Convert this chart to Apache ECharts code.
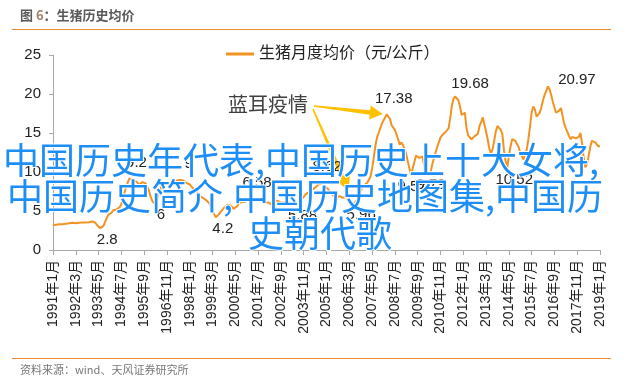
<!DOCTYPE html>
<html><head><meta charset="utf-8">
<script src="https://cdn.jsdelivr.net/npm/echarts@6/dist/echarts.min.js"></script>
<style>html,body{margin:0;padding:0;background:#fff}#c{width:640px;height:386px}</style>
</head><body><div id="c"></div>
<script>
// ---- data: monthly average live hog price (元/公斤) ----
const p1991 = [3.20, 3.22, 3.25, 3.28, 3.30, 3.33, 3.31, 3.35, 3.38, 3.40, 3.43, 3.46];
const p1992 = [3.48, 3.45, 3.42, 3.46, 3.50, 3.48, 3.52, 3.55, 3.53, 3.50, 3.56, 3.60];
const p1993 = [3.65, 3.68, 3.50, 3.20, 2.95, 2.80, 2.85, 3.10, 3.60, 4.10, 4.50, 4.40];
const p1994 = [4.80, 5.10, 4.90, 5.20, 5.40, 5.50, 5.90, 6.60, 7.40, 8.10, 8.70, 9.20];
const p1995 = [9.00, 8.90, 9.05, 8.80, 8.60, 8.40, 8.50, 8.70, 8.60, 8.50, 8.30, 7.60];
const p1996 = [6.80, 6.30, 6.00, 6.20, 6.60, 7.20, 7.80, 8.30, 8.60, 8.50, 8.70, 8.80];
const p1997 = [8.70, 8.80, 8.90, 8.85, 8.90, 8.95, 8.98, 9.00, 8.90, 8.70, 8.60, 8.50];
const p1998 = [8.40, 8.20, 7.90, 7.70, 7.60, 7.20, 6.90, 6.80, 6.70, 6.60, 6.40, 6.30];
const p1999 = [6.00, 5.50, 5.00, 4.60, 4.20, 4.40, 4.60, 4.90, 5.10, 5.40, 5.60, 5.80];
const p2000 = [5.90, 5.70, 5.50, 5.30, 5.40, 5.60, 5.90, 6.10, 6.20, 6.10, 6.20, 6.30];
const p2001 = [6.40, 6.58, 6.40, 6.20, 6.30, 6.40, 6.50, 6.40, 6.30, 6.20, 6.10, 6.00];
const p2002 = [6.10, 6.00, 5.90, 6.00, 6.20, 6.40, 6.30, 6.20, 6.10, 6.00, 6.10, 6.20];
const p2003 = [6.20, 6.10, 6.00, 5.95, 5.92, 5.88, 5.95, 6.10, 6.30, 6.50, 6.80, 7.10];
const p2004 = [7.30, 7.40, 7.60, 7.70, 7.90, 8.00, 8.20, 8.40, 8.62, 8.50, 8.30, 8.20];
const p2005 = [8.00, 7.80, 7.50, 7.30, 7.00, 6.80, 6.70, 6.80, 6.90, 6.80, 6.70, 6.80];
const p2006 = [6.80, 6.50, 6.30, 6.10, 6.00, 5.96, 6.10, 6.50, 7.00, 7.60, 8.00, 8.30];
const p2007 = [8.50, 8.60, 8.80, 9.40, 10.40, 11.80, 13.30, 14.40, 15.00, 15.60, 16.20, 16.60];
const p2008 = [16.80, 17.38, 17.30, 16.80, 16.00, 15.80, 15.40, 14.80, 14.20, 13.50, 13.80, 13.40];
const p2009 = [13.00, 12.20, 11.30, 10.40, 9.57, 10.50, 11.30, 12.10, 12.30, 11.80, 11.60, 12.00];
const p2010 = [10.80, 10.20, 9.90, 9.79, 10.00, 11.00, 11.80, 12.50, 13.20, 13.80, 14.40, 14.70];
const p2011 = [14.80, 15.10, 15.20, 15.60, 16.90, 18.50, 19.40, 19.68, 19.60, 19.20, 18.40, 17.30];
const p2012 = [17.40, 17.60, 15.60, 14.70, 14.50, 14.20, 14.40, 14.60, 14.80, 14.90, 15.90, 16.40];
const p2013 = [17.00, 17.20, 15.20, 14.20, 13.00, 12.40, 12.90, 14.00, 15.20, 15.90, 15.80, 15.40];
const p2014 = [14.90, 12.80, 11.40, 10.52, 12.00, 13.20, 14.20, 14.40, 14.00, 13.60, 13.20, 12.40];
const p2015 = [12.00, 11.60, 11.80, 12.90, 14.20, 15.80, 17.60, 18.40, 18.00, 17.10, 17.00, 17.60];
const p2016 = [18.30, 19.20, 19.90, 20.40, 20.97, 20.60, 19.90, 19.00, 18.30, 17.60, 17.40, 17.90];
const p2017 = [18.20, 17.20, 16.20, 15.60, 15.10, 14.60, 14.20, 14.50, 14.60, 14.30, 14.10, 14.50];
const p2018 = [15.00, 13.60, 11.80, 10.60, 11.00, 12.00, 13.20, 14.00, 14.20, 13.80, 13.60, 13.30];
const p2019 = [13.30];

const yearlyPrices = [p1991,p1992,p1993,p1994,p1995,p1996,p1997,p1998,p1999,p2000,p2001,p2002,p2003,p2004,
  p2005,p2006,p2007,p2008,p2009,p2010,p2011,p2012,p2013,p2014,p2015,p2016,p2017,p2018,p2019];
const firstYear = 1991;

// categories: one per month
const categories = [];
yearlyPrices.forEach((arr, i) => arr.forEach((v, j) => categories.push((firstYear + i) + '年' + (j + 1) + '月')));
const prices = [].concat(...yearlyPrices);

// labelled extremes
const peakMonths = ['1994年12月', '1997年8月', '2001年2月', '2004年9月', '2008年2月', '2011年8月', '2016年5月'];
const troughMonths = ['1993年6月', '1996年3月', '1999年5月', '2003年6月', '2006年6月', '2009年5月', '2010年4月', '2014年4月'];

const seriesName = '生猪月度均价（元/公斤）';
const sourceText = '资料来源：wind、天风证券研究所';
const noteText = '蓝耳疫情';
const noteTargets = ['2008年2月', '2006年6月'];
const overlayTitle = '中国历史年代表,中国历史上十大女将,中国历史简介,中国历史地图集,中国历史朝代歌';

// ---- styling ----
const ORANGE = '#F39221';
const labelShift = {'2011年8月': [15, 3], '2016年5月': [29, 9], '2009年5月': [1, 0], '2010年4月': [2, 0]};
const FONT = '"Liberation Sans", "Noto Sans CJK SC", sans-serif';

function markItem(cat, pos) {
  const idx = categories.indexOf(cat);
  return {
    coord: [cat, prices[idx]], value: prices[idx],
    label: {position: pos, distance: pos === 'top' ? 8 : 4,
      offset: labelShift[cat] || [7, 0]}
  };
}

const chart = echarts.init(document.getElementById('c'));
chart.setOption({
  animation: false,
  backgroundColor: '#fff',
  grid: {left: 53, right: 40, top: 55, bottom: 136},
  legend: {
    left: 221, top: 41, icon: 'rect', itemWidth: 28, itemHeight: 3, itemGap: 6,
    data: [seriesName],
    textStyle: {fontSize: 16, color: '#222', fontFamily: FONT}
  },
  xAxis: {
    type: 'category', data: categories, boundaryGap: false,
    axisLine: {lineStyle: {color: '#A8A8A8'}},
    axisTick: {interval: 13, length: 5, lineStyle: {color: '#A8A8A8'}},
    axisLabel: {interval: 13, rotate: 90, margin: 10, fontSize: 14, color: '#222', fontFamily: FONT}
  },
  yAxis: {
    type: 'value', min: 0, max: 25, interval: 5,
    splitLine: {show: false},
    axisLine: {show: true, lineStyle: {color: '#A8A8A8'}},
    axisTick: {show: true, length: 4, lineStyle: {color: '#A8A8A8'}},
    axisLabel: {fontSize: 15, color: '#222', margin: 12, fontFamily: FONT}
  },
  series: [{
    name: seriesName, type: 'line', data: prices, showSymbol: false,
    lineStyle: {color: ORANGE, width: 2}, itemStyle: {color: ORANGE},
    markPoint: {
      symbol: 'circle', symbolSize: 0, silent: true,
      label: {show: true, color: '#222', fontSize: 15, fontFamily: FONT, formatter: p => String(p.value)},
      data: peakMonths.map(c => markItem(c, 'top')).concat(troughMonths.map(c => markItem(c, 'bottom')))
    }
  }]
});

function arrowShape(x1, y1, tx, ty, back) {
  const dx = tx - x1, dy = ty - y1, L = Math.sqrt(dx*dx + dy*dy);
  const ux = dx / L, uy = dy / L, px = -uy, py = ux;
  const ex = tx - ux * back, ey = ty - uy * back;   // tip
  const hl = 13, hw = 7, sw0 = 0.8, sw1 = 2.2;
  const bx = ex - ux * hl, by = ey - uy * hl;
  return [[x1 + px*sw0, y1 + py*sw0], [bx + px*sw1, by + py*sw1], [bx + px*hw, by + py*hw], [ex, ey],
          [bx - px*hw, by - py*hw], [bx - px*sw1, by - py*sw1], [x1 - px*sw0, y1 - py*sw0]];
}

const t1 = chart.convertToPixel({seriesIndex: 0}, [noteTargets[0], prices[categories.indexOf(noteTargets[0])]]);
const t2 = chart.convertToPixel({seriesIndex: 0}, [noteTargets[1], prices[categories.indexOf(noteTargets[1])]]);
const rows = [overlayTitle.slice(0, 18), overlayTitle.slice(18, 36), overlayTitle.slice(36)];
const rowY = [160, 196, 233];
const rowX = [301, 305, 320];

chart.setOption({
  graphic: [
    {type: 'text', left: 20, top: 9, style: {text: '{a|图 }{b|6}{a|：生猪历史均价}', rich: {
      a: {fontSize: 13, fontWeight: 'bold', fill: '#595959', fontFamily: '"Noto Sans CJK SC"'},
      b: {fontSize: 13, fontWeight: 'bold', fill: '#A0826A', fontFamily: '"Noto Sans CJK SC"'}}}},
    {type: 'line', shape: {x1: 12, y1: 29.5, x2: 611, y2: 29.5}, style: {stroke: '#EE8A2E', lineWidth: 1.2}},
    {type: 'line', shape: {x1: 12, y1: 358.5, x2: 611, y2: 358.5}, style: {stroke: '#EE8A2E', lineWidth: 1.2}},
    {type: 'text', left: 20, top: 364, style: {text: sourceText, fontSize: 11, fill: '#777', fontFamily: '"Noto Sans CJK SC"'}},
    {type: 'text', x: 228, y: 104, style: {text: noteText, fontSize: 20, fill: '#404040', verticalAlign: 'middle', fontFamily: '"Noto Sans CJK SC"'}},
    {type: 'polygon', shape: {points: arrowShape(314, 106, t1[0], t1[1], 4)}, style: {fill: '#FFC000'}},
    {type: 'polygon', shape: {points: arrowShape(313, 109, t2[0], t2[1], 14)}, style: {fill: '#FFC000'}},
  ].concat(rows.map((r, i) => ({
    type: 'text', z: 100, x: rowX[i], y: rowY[i],
    style: {text: r, fontSize: 36, fontFamily: '"Noto Sans CJK SC"', fill: '#1E8EF7',
      stroke: '#ffffff', lineWidth: 2, align: 'center', verticalAlign: 'middle'}
  })))
});
</script></body></html>
